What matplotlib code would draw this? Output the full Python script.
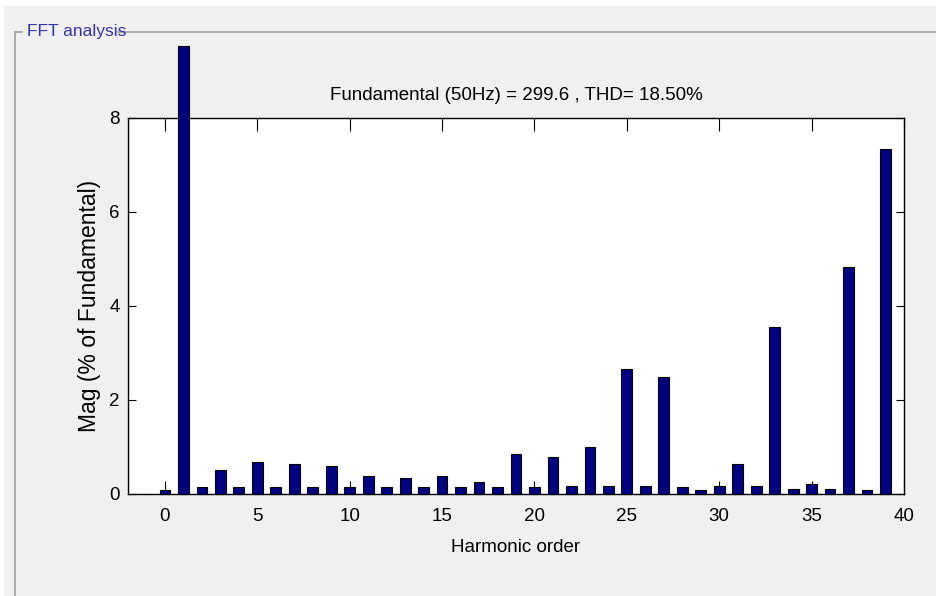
import matplotlib
matplotlib.use('Agg')
import matplotlib.pyplot as plt
from matplotlib.patches import Rectangle
from matplotlib.lines import Line2D

# harmonic order and magnitude (% of fundamental)
orders = list(range(0, 40))
mags = [0.08, 9.53, 0.15, 0.52, 0.15, 0.69, 0.15, 0.63, 0.15, 0.59,
        0.15, 0.38, 0.15, 0.33, 0.15, 0.38, 0.15, 0.25, 0.15, 0.85,
        0.15, 0.79, 0.18, 0.99, 0.18, 2.67, 0.18, 2.48, 0.15, 0.085,
        0.16, 0.63, 0.16, 3.55, 0.11, 0.21, 0.11, 4.84, 0.08, 7.33]
xticks = [0, 5, 10, 15, 20, 25, 30, 35, 40]
yticks = [0, 2, 4, 6, 8]
title = 'Fundamental (50Hz) = 299.6 , THD= 18.50%'

plt.rcParams['font.family'] = ['Liberation Sans', 'DejaVu Sans']

fig = plt.figure(figsize=(9.37, 5.96), dpi=100)
fig.patch.set_facecolor('#f0f0f0')

# white strips at top and left edge, and the panel frame
fig.patches.append(Rectangle((0, 1 - 6/596), 1, 6/596, transform=fig.transFigure,
                             facecolor='white', edgecolor='none', zorder=0))
fig.patches.append(Rectangle((0, 0), 4/937, 1, transform=fig.transFigure,
                             facecolor='white', edgecolor='none', zorder=0))
ytop = 1 - 31.5/596
xl = 15.5/937
for xs, ys in [([xl, xl], [0, ytop]), ([xl, 22/937], [ytop, ytop]),
               ([118/937, 1], [ytop, ytop])]:
    fig.lines.append(Line2D(xs, ys, transform=fig.transFigure, color='#a0a0a0', lw=1.2))
fig.text(27/937, ytop, 'FFT analysis', color='#3333aa', fontsize=12.5,
         va='center', ha='left')

ax = fig.add_axes([128/937, 1 - 494/596, 776/937, 376/596])
ax.set_facecolor('white')
bars = ax.bar(orders, mags, width=0.58, color='#000080', edgecolor='black',
              linewidth=0.8, zorder=3)
for b in bars:
    b.set_clip_on(False)

ax.set_xlim(-2, 40)
ax.set_ylim(0, 8)
ax.set_xticks(xticks)
ax.set_yticks(yticks)
ax.tick_params(axis='both', direction='in', top=True, right=True,
               labelsize=13.5, colors='black')
ax.tick_params(axis='x', length=9.5, pad=10)
ax.tick_params(axis='y', length=6, pad=6)
for s in ax.spines.values():
    s.set_linewidth(1.0)

ax.set_xlabel('Harmonic order', fontsize=13.5, labelpad=10)
ax.set_ylabel('Mag (% of Fundamental)', fontsize=16.5, labelpad=6)
ax.set_title(title, fontsize=13.5, pad=13)

fig.savefig('out.png', dpi=100, facecolor=fig.get_facecolor())
